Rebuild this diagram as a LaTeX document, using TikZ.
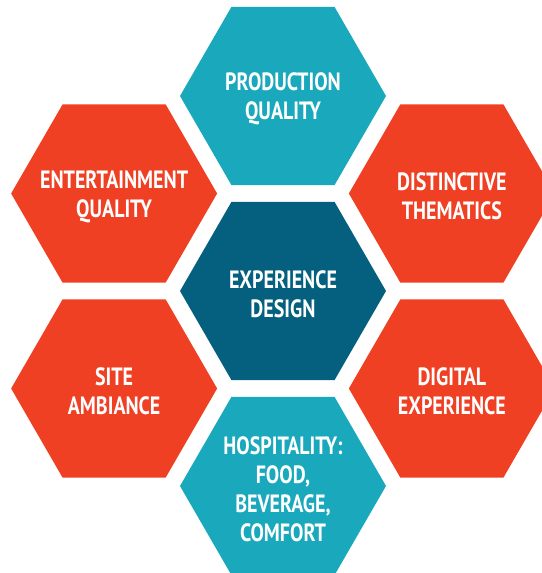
\documentclass[tikz,border=0pt]{standalone}
\usepackage{fontspec}
\setmainfont{PT Sans}
\newfontfamily\hexfont[FakeStretch=0.8]{PT Sans}
\usetikzlibrary{shapes.geometric}
\definecolor{hexteal}{HTML}{1AA9BC}
\definecolor{hexnavy}{HTML}{05607F}
\definecolor{hexred}{HTML}{EF4023}

\begin{document}
\begin{tikzpicture}[
    hex/.style={regular polygon, regular polygon sides=6, draw=none,
                minimum size=206pt, inner sep=0pt, outer sep=0pt},
    txt/.style={text=white, align=center, inner sep=0pt, yshift=-3pt,
                font=\hexfont\bfseries\fontsize{25pt}{29pt}\selectfont}
  ]
  \useasboundingbox (-283pt,-282pt) rectangle (258pt,291pt);

  \node[hex, fill=hexnavy] (expd) at (0,0) {};
  \node[hex, fill=hexteal] (prod) at (90:195pt)  {};
  \node[hex, fill=hexred]  (dist) at (30:195pt)  {};
  \node[hex, fill=hexred]  (digi) at (-30:195pt) {};
  \node[hex, fill=hexteal] (hosp) at (-90:195pt) {};
  \node[hex, fill=hexred]  (site) at (210:195pt) {};
  \node[hex, fill=hexred]  (ent)  at (150:195pt) {};

  \node[txt] (expdtxt) at (expd) {EXPERIENCE\\DESIGN};
  \node[txt] (prodtxt) at (prod) {PRODUCTION\\QUALITY};
  \node[txt] (disttxt) at (dist) {DISTINCTIVE\\THEMATICS};
  \node[txt] (digitxt) at (digi) {DIGITAL\\EXPERIENCE};
  \node[txt] (hosptxt) at (hosp) {HOSPITALITY:\\FOOD,\\BEVERAGE,\\COMFORT};
  \node[txt] (sitetxt) at (site) {SITE\\AMBIANCE};
  \node[txt] (enttxt)  at (ent)  {ENTERTAINMENT\\QUALITY};
\end{tikzpicture}
\end{document}
